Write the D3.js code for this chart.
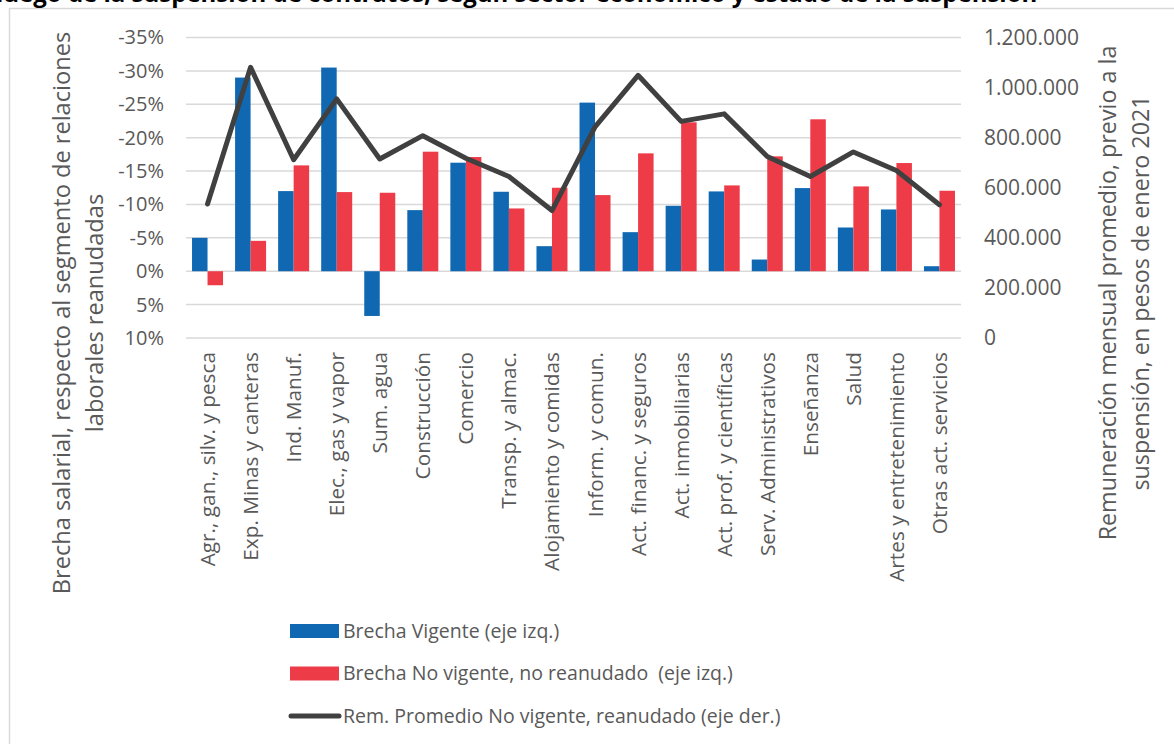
<!DOCTYPE html>
<html>
<head>
<meta charset="utf-8">
<script src="https://cdn.jsdelivr.net/npm/d3@7"></script>
<style>
  html, body { margin: 0; padding: 0; background: #ffffff; }
  svg { display: block; }
  text { font-family: "Open Sans", "Noto Sans", sans-serif; }
</style>
</head>
<body>
<svg id="chart" width="1174" height="744"></svg>
<script>
// Sectors on the category axis
const categories = [
  "Agr., gan., silv. y pesca",
  "Exp. Minas y canteras",
  "Ind. Manuf.",
  "Elec., gas y vapor",
  "Sum. agua",
  "Construcción",
  "Comercio",
  "Transp. y almac.",
  "Alojamiento y comidas",
  "Inform. y comun.",
  "Act. financ. y seguros",
  "Act. inmobiliarias",
  "Act. prof. y científicas",
  "Serv. Administrativos",
  "Enseñanza",
  "Salud",
  "Artes y entretenimiento",
  "Otras act. servicios"
];

// Wage gap, current contracts (left axis, share)
const brechaVigente = [
  -0.050, -0.290, -0.120, -0.305, 0.067, -0.0915, -0.1625, -0.119, -0.0375,
  -0.2525, -0.0585, -0.098, -0.1195, -0.0175, -0.1245, -0.0655, -0.0925, -0.0075
];

// Wage gap, non-current and not resumed (left axis, share)
const brechaNoVigente = [
  0.021, -0.0455, -0.1585, -0.1185, -0.1175, -0.179, -0.171, -0.094, -0.125,
  -0.114, -0.1765, -0.223, -0.1285, -0.172, -0.2275, -0.127, -0.162, -0.1205
];

// Average pay, non-current and resumed (right axis, pesos)
const remPromedio = [
  535000, 1081000, 712000, 955000, 715000, 808000, 718000, 645000, 509000,
  843000, 1049000, 865000, 895000, 725000, 645000, 743000, 669000, 532000
];

const leftTicks = [-0.35, -0.30, -0.25, -0.20, -0.15, -0.10, -0.05, 0, 0.05, 0.10];
const rightTicks = [0, 200000, 400000, 600000, 800000, 1000000, 1200000];

const seriesNames = [
  "Brecha Vigente (eje izq.)",
  "Brecha No vigente, no reanudado  (eje izq.)",
  "Rem. Promedio No vigente, reanudado (eje der.)"
];

const titleText = "luego de la suspensión de contratos, según sector económico y estado de la suspensión";
const leftTitle = ["Brecha salarial, respecto al segmento de relaciones", "laborales reanudadas"];
const rightTitle = ["Remuneración mensual promedio, previo a la", "suspensión, en pesos de enero 2021"];

const COL_BLUE = "#1068b3";
const COL_RED = "#ee3b48";
const COL_LINE = "#404040";
const COL_GRID = "#d9d9d9";
const COL_TEXT = "#595959";

const svg = d3.select("#chart");

// chart frame
svg.append("rect")
  .attr("x", 9.5).attr("y", 8.5)
  .attr("width", 1300).attr("height", 900)
  .attr("fill", "#ffffff")
  .attr("stroke", COL_GRID).attr("stroke-width", 1.5);

// heading sitting above the frame
svg.append("text")
  .attr("x", -4).attr("y", 1.5)
  .attr("font-family", "'Liberation Sans', Arial, sans-serif")
  .attr("font-weight", "bold")
  .attr("font-size", 24)
  .attr("fill", "#000000")
  .text(titleText);

const plot = { left: 186, right: 961, top: 37.5, bottom: 338 };

const x = d3.scaleBand()
  .domain(categories)
  .range([plot.left, plot.right])
  .paddingInner(0.28)
  .paddingOuter(0.14);

const yL = d3.scaleLinear().domain([-0.35, 0.10]).range([plot.top, plot.bottom]);
const yR = d3.scaleLinear().domain([0, 1200000]).range([plot.bottom, plot.top]);

const pesos = d3.formatLocale({ decimal: ",", thousands: ".", grouping: [3], currency: ["$", ""] }).format(",");
const pct = v => Math.round(v * 100) + "%";

// gridlines
svg.append("g")
  .selectAll("line")
  .data(leftTicks)
  .join("line")
  .attr("x1", plot.left).attr("x2", plot.right)
  .attr("y1", d => yL(d)).attr("y2", d => yL(d))
  .attr("stroke", COL_GRID).attr("stroke-width", 1.5);

// left axis
const axL = svg.append("g")
  .attr("transform", `translate(${plot.left - 22},0)`)
  .call(d3.axisLeft(yL).tickValues(leftTicks).tickFormat(pct).tickSize(0).tickPadding(0));
axL.select(".domain").remove();
axL.selectAll("text")
  .attr("font-family", "'Open Sans', sans-serif")
  .attr("font-size", 20)
  .attr("fill", COL_TEXT);

// right axis
const axR = svg.append("g")
  .attr("transform", `translate(${plot.right + 23},0)`)
  .call(d3.axisRight(yR).tickValues(rightTicks).tickFormat(pesos).tickSize(0).tickPadding(0));
axR.select(".domain").remove();
axR.selectAll("text")
  .attr("font-family", "'Open Sans', sans-serif")
  .attr("font-size", 21)
  .attr("fill", COL_TEXT);

// bars
const half = x.bandwidth() / 2;
const bars = svg.append("g");
bars.selectAll("rect.vig")
  .data(categories)
  .join("rect")
  .attr("class", "vig")
  .attr("x", d => x(d))
  .attr("width", half)
  .attr("y", (d, i) => Math.min(yL(brechaVigente[i]), yL(0)))
  .attr("height", (d, i) => Math.abs(yL(brechaVigente[i]) - yL(0)))
  .attr("fill", COL_BLUE);
bars.selectAll("rect.novig")
  .data(categories)
  .join("rect")
  .attr("class", "novig")
  .attr("x", d => x(d) + half)
  .attr("width", half)
  .attr("y", (d, i) => Math.min(yL(brechaNoVigente[i]), yL(0)))
  .attr("height", (d, i) => Math.abs(yL(brechaNoVigente[i]) - yL(0)))
  .attr("fill", COL_RED);

// pay line
const line = d3.line()
  .x((d, i) => x(categories[i]) + half)
  .y(d => yR(d));
svg.append("path")
  .datum(remPromedio)
  .attr("d", line)
  .attr("fill", "none")
  .attr("stroke", COL_LINE)
  .attr("stroke-width", 5)
  .attr("stroke-linejoin", "round")
  .attr("stroke-linecap", "round");

// category labels, rotated
svg.append("g")
  .selectAll("text")
  .data(categories)
  .join("text")
  .attr("transform", d => `translate(${x(d) + half + 7.5},352) rotate(-90)`)
  .attr("text-anchor", "end")
  .attr("font-size", 20.8)
  .attr("fill", COL_TEXT)
  .text(d => d);

// left axis title
const lt = svg.append("text")
  .attr("transform", "translate(62,313) rotate(-90)")
  .attr("text-anchor", "middle")
  .attr("font-size", 23.6)
  .attr("fill", COL_TEXT);
lt.selectAll("tspan").data(leftTitle).join("tspan")
  .attr("x", 0).attr("dy", (d, i) => i === 0 ? "0.35em" : "1.4em")
  .text(d => d);

// right axis title
const rt = svg.append("text")
  .attr("transform", "translate(1108,293) rotate(-90)")
  .attr("text-anchor", "middle")
  .attr("font-size", 23.3)
  .attr("fill", COL_TEXT);
rt.selectAll("tspan").data(rightTitle).join("tspan")
  .attr("x", 0).attr("dy", (d, i) => i === 0 ? "0.35em" : "1.4em")
  .text(d => d);

// legend
const legend = svg.append("g").attr("transform", "translate(290,631)");
const rowGap = 42.5;
legend.append("rect").attr("x", 0).attr("y", -7).attr("width", 49).attr("height", 14).attr("fill", COL_BLUE);
legend.append("rect").attr("x", 0).attr("y", rowGap - 7).attr("width", 49).attr("height", 14).attr("fill", COL_RED);
legend.append("line")
  .attr("x1", 1).attr("x2", 49)
  .attr("y1", rowGap * 2).attr("y2", rowGap * 2)
  .attr("stroke", COL_LINE).attr("stroke-width", 5).attr("stroke-linecap", "round");
legend.selectAll("text")
  .data(seriesNames)
  .join("text")
  .attr("x", 53)
  .attr("y", (d, i) => i * rowGap)
  .attr("dy", "0.35em")
  .attr("font-size", 19.5)
  .attr("fill", COL_TEXT)
  .style("white-space", "pre")
  .text(d => d);
</script>
</body>
</html>
